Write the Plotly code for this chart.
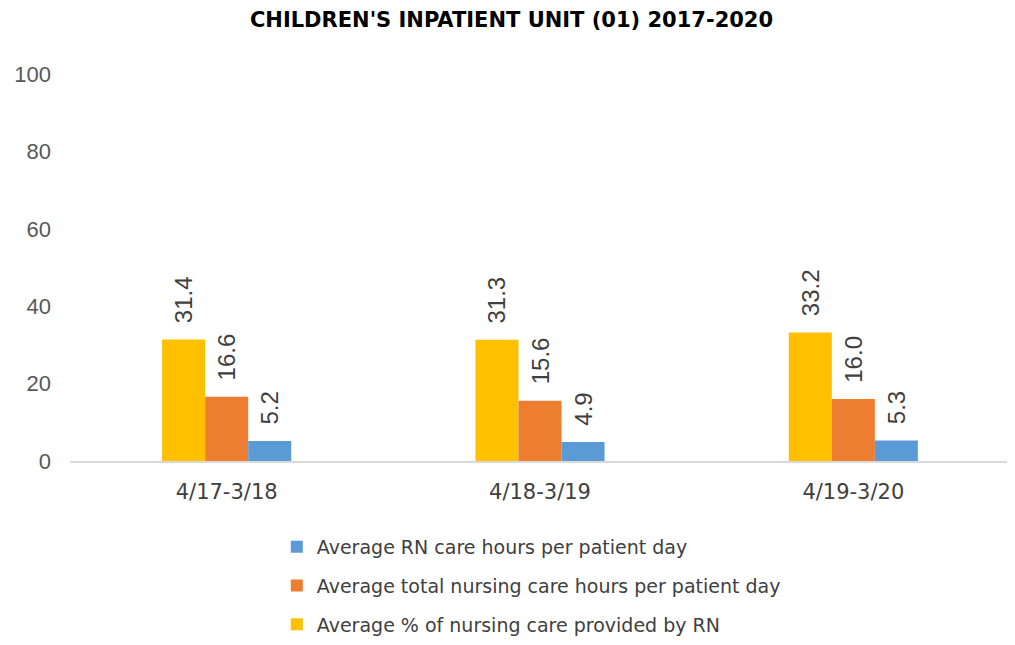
import plotly.graph_objects as go

categories = ["4/17-3/18", "4/18-3/19", "4/19-3/20"]
pct_rn = [31.4, 31.3, 33.2]
total_hours = [16.6, 15.6, 16.0]
rn_hours = [5.2, 4.9, 5.3]
names = [
    "Average % of nursing care provided by RN",
    "Average total nursing care hours per patient day",
    "Average RN care hours per patient day",
]
colors = ["#FFC000", "#ED7D31", "#5B9BD5"]
ranks = [3, 2, 1]
series = [pct_rn, total_hours, rn_hours]

fig = go.Figure()
for i, (nm, vals, col) in enumerate(zip(names, series, colors)):
    fig.add_trace(go.Bar(
        x=categories, y=vals, name=nm, marker=dict(color=col, line=dict(width=0)),
        text=[f"\u00a0\u00a0{v:.1f}" for v in vals], textposition="outside", textangle=-90,
        constraintext="none",
        textfont=dict(family="Liberation Sans, Arial", size=24, color="#404040"),
        cliponaxis=False, legendgroup=f"g{i}", legendrank=ranks[i],
    ))

# page body adds an 8px offset, so the figure is sized/margined to compensate
fig.update_layout(
    width=1007, height=637,
    paper_bgcolor="white", plot_bgcolor="white",
    margin=dict(l=62, r=5, t=66, b=184, autoexpand=False),
    barmode="group", bargap=0.588, bargroupgap=0,
    title=dict(text="<b>CHILDREN'S INPATIENT UNIT (01) 2017-2020</b>",
               x=0.5, xanchor="center", y=0.981, yanchor="middle",
               font=dict(family="DejaVu Sans", size=21, color="#000000")),
    showlegend=True,
    legend=dict(orientation="v", x=0.220, xanchor="left", y=-0.173, yanchor="top",
                traceorder="grouped", tracegroupgap=11,
                font=dict(family="DejaVu Sans", size=19, color="#404040"),
                itemwidth=30),
    uniformtext=dict(mode=False),
)
fig.update_yaxes(range=[0, 100], dtick=20, showgrid=False, zeroline=False, showline=False,
                 automargin=False,
                 tickfont=dict(family="Liberation Sans, Arial", size=22, color="#595959"),
                 ticklabelstandoff=18)
fig.update_xaxes(showline=True, linecolor="#D9D9D9", linewidth=2, showgrid=False,
                 automargin=False,
                 tickfont=dict(family="DejaVu Sans", size=21, color="#404040"),
                 ticks="", ticklabelstandoff=11)

fig.write_html("out.html")
